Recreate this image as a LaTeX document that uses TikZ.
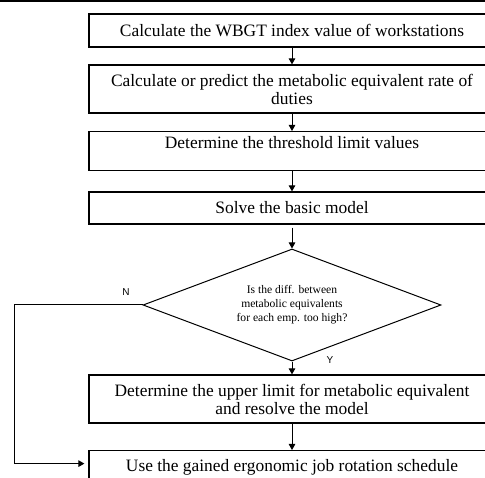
\documentclass[tikz,border=0pt]{standalone}
\usepackage{fontspec}
\setmainfont{Liberation Serif}
\newfontfamily\labelfont{Liberation Sans}
\usetikzlibrary{shapes.geometric,arrows.meta}

\tikzset{every picture/.style={line width=1pt}}

\begin{document}
\begin{tikzpicture}[x=1pt,y=1pt,yscale=-1,xscale=1,
  stepbox/.style={draw,line width=1.2pt,rectangle,minimum width=406,inner sep=0pt,align=center,font=\fontsize{17.4}{18}\selectfont},
  ask/.style={draw,shape=diamond,aspect=2.66,minimum width=298,minimum height=112,inner sep=0pt,align=center,font=\fontsize{11.6}{14}\selectfont},
  yesno/.style={inner sep=0pt,font=\labelfont\fontsize{10}{12}\selectfont},
  flow/.style={-{Triangle[length=6pt,width=6.5pt]},line width=1pt}]
\useasboundingbox (0,0) rectangle (485,478);
\clip (0,0) rectangle (485,478);

%Top rule
\draw [line width=1.5pt] (0,1) -- (485,1) ;

%Shape: Rectangles with text
\node [stepbox,minimum height=33] (wbgt) at (292,30.5) {Calculate the WBGT index value of workstations};
\node [stepbox,minimum height=48] (rate) at (292,89) {Calculate or predict the metabolic equivalent rate of\\duties};
\node [stepbox,minimum height=39,anchor=north] (tlv) at (292,131) {Determine the threshold limit values\\\mbox{}};
\node [stepbox,minimum height=32] (basic) at (292,208) {Solve the basic model};

%Shape: Diamond
\node [ask] (diff) at (292,305) {Is the diff. between\\metabolic equivalents\\for each emp. too high?};

\node [stepbox,minimum height=48] (upper) at (292,399) {Determine the upper limit for metabolic equivalent\\and resolve the model};
\node [stepbox,minimum height=34,anchor=north] (use) at (292,450) {Use the gained ergonomic job rotation schedule};

% Text Node
\node [yesno] (no) at (126,292) {N};
% Text Node
\node [yesno] (yes) at (330,360) {Y};

%Connectors
\draw [flow] (wbgt) -- (rate) ;
\draw [flow] (rate) -- (tlv) ;
\draw [flow] (tlv) -- (basic) ;
\draw [flow,shorten <=3pt] (basic) -- (diff) ;
\draw [flow] (diff) -- (upper) ;
\draw [flow] (upper) -- (use) ;
\draw [flow,shorten >=4pt] (diff.west) -- (14,305) |- ([yshift=-4pt]use.west) ;
\end{tikzpicture}
\end{document}
